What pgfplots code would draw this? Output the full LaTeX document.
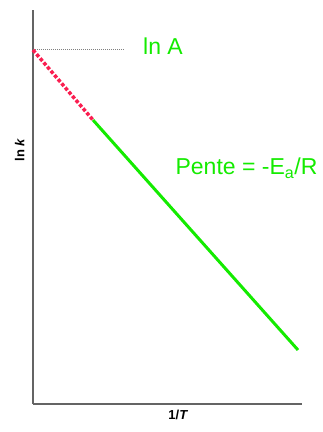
\documentclass[border=0pt]{standalone}
\usepackage{pgfplots}
\pgfplotsset{compat=1.18}
\usepackage{fontspec}
\setmainfont{Liberation Sans}
\definecolor{linegreen}{RGB}{20,235,0}
\definecolor{dotred}{RGB}{250,30,80}
\definecolor{axisgray}{RGB}{100,100,100}
\begin{document}
\begin{tikzpicture}
\useasboundingbox (-33pt,-28pt) rectangle (290pt,404pt);
\begin{axis}[
  at={(0,0)}, anchor=south west,
  scale only axis, width=269pt, height=394pt,
  xmin=0, xmax=269, ymin=0, ymax=394,
  axis lines=left,
  axis line style={-, axisgray, line width=1.6pt},
  xtick=\empty, ytick=\empty,
  clip=false,
  xlabel={1/\textit{T}},
  ylabel={ln \textit{k}},
  label style={font=\fontsize{13}{15}\bfseries},
  xlabel style={at={(axis description cs:0.54,0)}, anchor=north, yshift=-3pt},
  ylabel style={at={(axis description cs:0,0.645)}, anchor=south, yshift=5pt},
]
% extrapolation to the intercept
\addplot[gray, densely dotted, line width=1pt] coordinates {(0,354) (92,354)};
\addplot[dotred, dotted, line width=3.5pt] coordinates {(0,354) (60,284)};
% measured region
\addplot[linegreen, line width=3pt] coordinates {(60,284) (265,54)};
\node[text=linegreen, font=\fontsize{23}{27}\selectfont] at (axis cs:130,358) {ln A};
\node[text=linegreen, font=\fontsize{23}{27}\selectfont] at (axis cs:213.5,236) {Pente = -E\textsubscript{a}/R};
\end{axis}
\end{tikzpicture}
\end{document}
